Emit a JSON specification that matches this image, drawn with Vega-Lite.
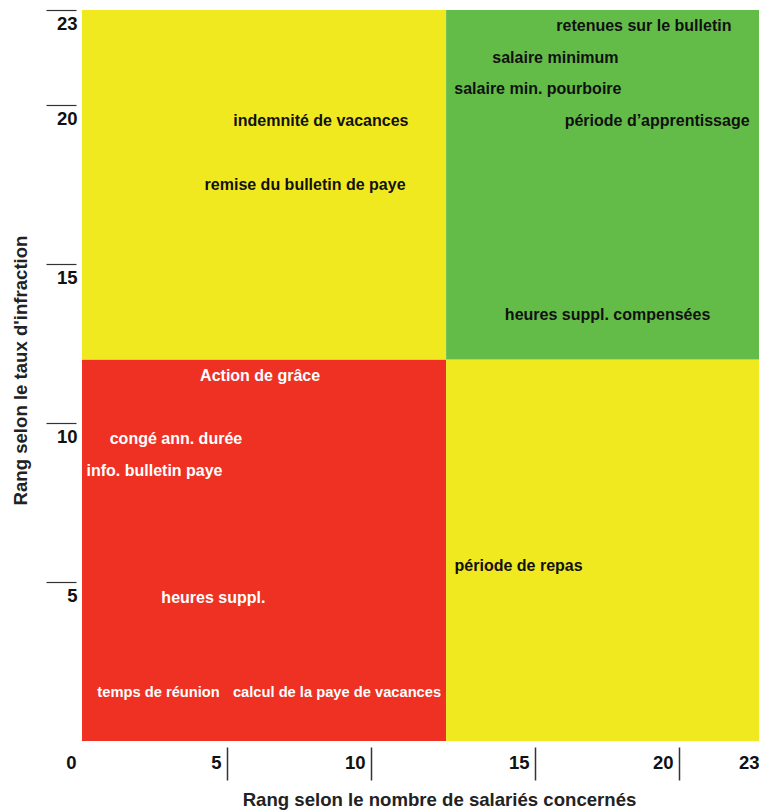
{
  "$schema": "https://vega.github.io/schema/vega-lite/v6.json",
  "width": 677,
  "height": 731,
  "autosize": {"type": "none"},
  "padding": {"left": 82, "top": 10, "right": 0, "bottom": 70},
  "background": "white",
  "config": {"view": {"stroke": null}, "font": "Liberation Sans"},
  "datasets": {
    "quadrants": [
      {"categorie": "bas-bas", "x": 0, "x2": 12.29, "y": 0, "y2": 12},
      {"categorie": "haut-bas", "x": 12.29, "x2": 23, "y": 0, "y2": 12},
      {"categorie": "bas-haut", "x": 0, "x2": 12.29, "y": 12, "y2": 23},
      {"categorie": "haut-haut", "x": 12.29, "x2": 23, "y": 12, "y2": 23}
    ],
    "points": [
      {"libelle": "retenues sur le bulletin", "x": 18.78, "y": 22.5},
      {"libelle": "salaire minimum", "x": 15.71, "y": 21.5},
      {"libelle": "salaire min. pourboire", "x": 15.1, "y": 20.5},
      {"libelle": "période d’apprentissage", "x": 19.24, "y": 19.5},
      {"libelle": "indemnité de vacances", "x": 8.26, "y": 19.5},
      {"libelle": "remise du  bulletin de paye", "x": 7.71, "y": 17.5},
      {"libelle": "heures suppl. compensées", "x": 17.52, "y": 13.4},
      {"libelle": "Action de grâce", "x": 6.15, "y": 11.5},
      {"libelle": "congé ann. durée", "x": 3.24, "y": 9.5},
      {"libelle": "info. bulletin paye", "x": 2.5, "y": 8.5},
      {"libelle": "période de repas", "x": 14.5, "y": 5.5},
      {"libelle": "heures suppl.", "x": 4.53, "y": 4.5},
      {"libelle": "temps de réunion", "x": 2.64, "y": 1.5},
      {"libelle": "calcul de la paye de vacances", "x": 8.82, "y": 1.5}
    ]
  },
  "layer": [
    {
      "data": {"name": "quadrants"},
      "mark": {"type": "rect"},
      "encoding": {
        "x": {
          "field": "x",
          "type": "quantitative",
          "scale": {"domain": [0, 5, 10, 15, 20, 23], "range": [0, 145, 289, 453, 597, 677], "nice": false, "zero": false},
          "axis": {
            "orient": "bottom",
            "values": [0, 5, 10, 15, 20, 23],
            "format": "d",
            "offset": 6,
            "domain": false,
            "grid": false,
            "ticks": true,
            "tickSize": 33,
            "tickColor": "#333333",
            "tickWidth": 1.5,
            "tickOpacity": {"condition": {"test": "datum.value == 0 || datum.value == 23", "value": 0}, "value": 1},
            "labelAlign": "right",
            "labelBaseline": "middle",
            "labelPadding": -18,
            "labelOffset": {"condition": {"test": "datum.value == 23", "value": 0}, "value": -6},
            "labelFont": "Liberation Sans",
            "labelFontWeight": "bold",
            "labelFontSize": 18.5,
            "labelColor": "#111111",
            "labelOverlap": false,
            "labelBound": false,
            "labelFlush": false,
            "title": "Rang selon le nombre de salariés concernés",
            "titleFont": "Liberation Sans",
            "titleFontSize": 18.6,
            "titleFontWeight": "bold",
            "titleColor": "#222222",
            "titleX": 357,
            "titleY": 58,
            "titleAlign": "center",
            "titleBaseline": "alphabetic"
          }
        },
        "x2": {"field": "x2"},
        "y": {
          "field": "y",
          "type": "quantitative",
          "scale": {"domain": [0, 23], "nice": false, "zero": false},
          "axis": {
            "orient": "left",
            "values": [5, 10, 15, 20, 23],
            "format": "d",
            "offset": 6,
            "domain": false,
            "grid": false,
            "ticks": true,
            "tickSize": 30,
            "tickColor": "#333333",
            "tickWidth": 1.2,
            "labelAlign": "right",
            "labelBaseline": "top",
            "labelPadding": -31,
            "labelOffset": 4,
            "labelFont": "Liberation Sans",
            "labelFontWeight": "bold",
            "labelFontSize": 18.5,
            "labelColor": "#111111",
            "labelOverlap": false,
            "labelBound": false,
            "labelFlush": false,
            "title": "Rang selon le taux d'infraction",
            "titleFont": "Liberation Sans",
            "titleFontSize": 18.6,
            "titleFontWeight": "bold",
            "titleColor": "#222222",
            "titleAngle": -90,
            "titleX": -50,
            "titleY": 360,
            "titleAlign": "center",
            "titleBaseline": "alphabetic"
          }
        },
        "y2": {"field": "y2"},
        "fill": {
          "field": "categorie",
          "type": "nominal",
          "scale": {"domain": ["bas-bas", "haut-bas", "bas-haut", "haut-haut"], "range": ["#EE3123", "#F1E91F", "#F1E91F", "#63BC48"]},
          "legend": null
        }
      }
    },
    {
      "data": {"name": "points"},
      "mark": {"type": "text", "font": "Liberation Sans", "fontWeight": "bold", "align": "center", "baseline": "middle"},
      "encoding": {
        "x": {"field": "x", "type": "quantitative"},
        "y": {"field": "y", "type": "quantitative"},
        "text": {"field": "libelle"},
        "size": {"condition": {"test": "datum.y < 2", "value": 14.7}, "value": 16},
        "color": {"condition": {"test": "datum.x < 12.29 && datum.y < 12", "value": "white"}, "value": "#111111"}
      }
    }
  ]
}
